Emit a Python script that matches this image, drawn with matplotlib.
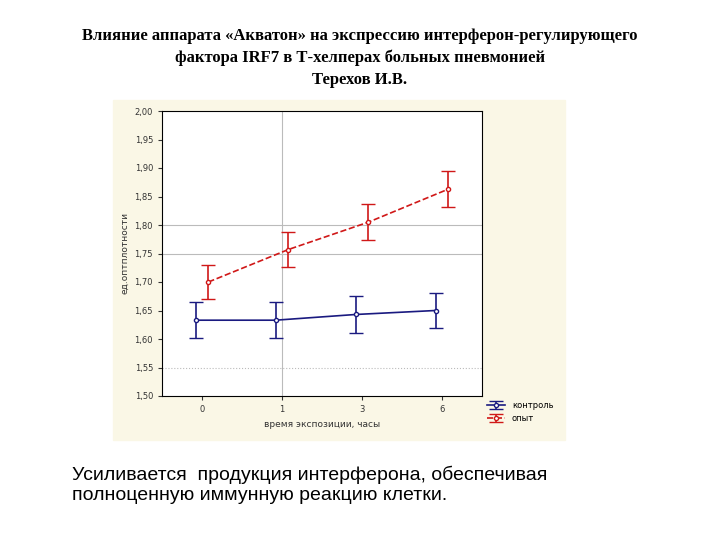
import matplotlib
matplotlib.use("Agg")
import matplotlib.pyplot as plt
from matplotlib.patches import Rectangle

categories = ["0", "1", "3", "6"]
control = [1.633, 1.633, 1.643, 1.650]
control_err = [0.032, 0.032, 0.033, 0.031]
experiment = [1.700, 1.757, 1.805, 1.863]
experiment_err = [0.030, 0.031, 0.032, 0.032]
yticks = [1.50, 1.55, 1.60, 1.65, 1.70, 1.75, 1.80, 1.85, 1.90, 1.95, 2.00]

fig = plt.figure(figsize=(7.2, 5.4), dpi=100)
fig.patches.append(Rectangle((113/720, 1-440/540), (565-113)/720, (440-100)/540,
                             transform=fig.transFigure, color="#faf7e6", zorder=-5))
fig.text(0.5, 1-58/540, "Влияние аппарата «Акватон» на экспрессию интерферон-регулирующего\n"
         "фактора IRF7 в Т-хелперах больных пневмонией\nТерехов И.В.",
         ha="center", va="center", fontsize=12, fontweight="bold",
         family="Liberation Serif", linespacing=1.5)

ax = fig.add_axes([162/720, 1-396/540, (482-162)/720, (396-111)/540])
ax.set_facecolor("white")
x = list(range(len(categories)))
xc = [i - 0.08 for i in x]
xe = [i + 0.08 for i in x]
ax.errorbar(xc, control, yerr=control_err, color="#1a1a80", lw=1.2, capsize=5,
            marker="o", ms=3, mfc="white", label="контроль")
ax.errorbar(xe, experiment, yerr=experiment_err, color="#d01818", lw=1.2, ls="--",
            capsize=5, marker="o", ms=3, mfc="white", label="опыт")
ax.set_xlim(-0.5, 3.5)
ax.set_ylim(1.5, 2.0)
ax.set_xticks(x)
ax.set_xticklabels(categories)
ax.set_yticks(yticks)
ax.set_yticklabels([f"{v:.2f}".replace(".", ",") for v in yticks])
ax.tick_params(labelsize=6, length=3, colors="#333333")
ax.axvline(1, color="#bbbbbb", lw=0.8, zorder=0)
for yv in (1.80, 1.75):
    ax.axhline(yv, color="#bbbbbb", lw=0.8, zorder=0)
ax.axhline(1.55, color="#bbbbbb", lw=0.8, ls=":", zorder=0)
ax.set_xlabel("время экспозиции, часы", fontsize=6.5, color="#333333")
ax.set_ylabel("ед.оптплотности", fontsize=6.5, color="#333333")
ax.legend(loc="upper left", bbox_to_anchor=(1.0, 0.0), fontsize=6, frameon=False,
          handlelength=2.2, borderaxespad=0.2)

fig.text(72/720, 1-485/540, "Усиливается  продукция интерферона, обеспечивая\n"
         "полноценную иммунную реакцию клетки.", ha="left", va="center",
         fontsize=14, family="Liberation Sans", linespacing=1.25)
fig.savefig("out.png", dpi=100)
